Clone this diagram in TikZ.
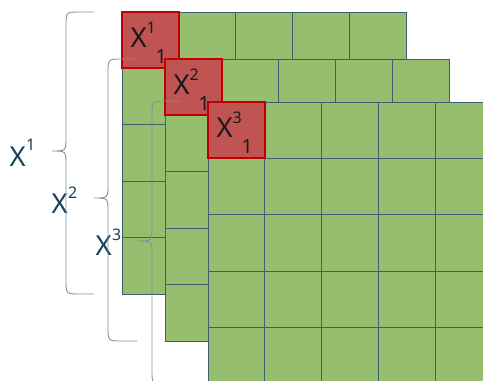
\documentclass[tikz,border=0pt]{standalone}
\usepackage{fontspec}
\setmainfont{Noto Sans}
\definecolor{cellgreen}{RGB}{150,190,110}
\definecolor{gridline}{RGB}{62,96,110}
\definecolor{cellred}{RGB}{192,84,82}
\definecolor{redborder}{RGB}{192,0,0}
\definecolor{bracecol}{RGB}{125,148,165}
\definecolor{labelcol}{RGB}{25,65,90}
\tikzset{
  gline/.style={draw=gridline, line width=0.9pt},
  redcell/.style={fill=cellred, draw=redborder, line width=2pt},
  bigx/.style={anchor=base west, inner sep=0pt, font=\fontsize{27.5}{27.5}\selectfont},
  supx/.style={anchor=base west, inner sep=0pt, font=\fontsize{16}{16}\selectfont},
  subx/.style={anchor=base west, inner sep=0pt, font=\fontsize{19.5}{19.5}\selectfont},
  bracestyle/.style={draw=bracecol, line width=0.9pt},
}
\begin{document}
\begin{tikzpicture}[x=1pt,y=-1pt]
\useasboundingbox (0,0) rectangle (483,381);
\clip (0,0) rectangle (483,381);
\foreach \i/\ox/\oy in {1/122/12, 2/165/59, 3/208/102} {
  \fill[cellgreen] (\ox,\oy) rectangle ++(284,282);
  \foreach \k in {0,...,5} {
    \draw[gline] (\ox+\k*56.8,\oy) -- ++(0,282);
    \draw[gline] (\ox,\oy+\k*56.4) -- ++(284,0);
  }
  \draw[redcell] (\ox,\oy) rectangle ++(56.8,56.4);
  \node[bigx, text=black!90] (cx\i) at (\ox+8.5,\oy+35) {X};
  \node[supx, text=black!90] (cs\i) at (\ox+24.5,\oy+21.5) {\i};
  \node[subx, text=black!90] (cb\i) at (\ox+33.5,\oy+51) {1};
}
% left labels
\node[bigx, text=labelcol] (lx1) at (9.5,166.5) {X};
\node[supx, text=labelcol] (ls1) at (26,150.5) {1};
\node[bigx, text=labelcol] (lx2) at (51.5,213.5) {X};
\node[supx, text=labelcol] (ls2) at (68,198.5) {2};
\node[bigx, text=labelcol] (lx3) at (95.5,255.5) {X};
\node[supx, text=labelcol] (ls3) at (112,240.5) {3};
% braces
\draw[bracestyle] (94,12) -- (80,12) .. controls (66,12) .. (66,26) -- (66,137)
  .. controls (66,151) .. (52,151) .. controls (66,151) .. (66,165) -- (66,280)
  .. controls (66,294) .. (80,294) -- (94,294);
\draw[bracestyle] (137,59) -- (123,59) .. controls (108,59) .. (108,73) -- (108,184)
  .. controls (108,198) .. (94,198) .. controls (108,198) .. (108,212) -- (108,327)
  .. controls (108,341) .. (123,341) -- (137,341);
\draw[bracestyle] (180,101) -- (166,101) .. controls (152,101) .. (152,115) -- (152,227)
  .. controls (152,241) .. (137,241) .. controls (152,241) .. (152,255) -- (152,370)
  .. controls (152,384) .. (166,384) -- (180,384);
\end{tikzpicture}
\end{document}
